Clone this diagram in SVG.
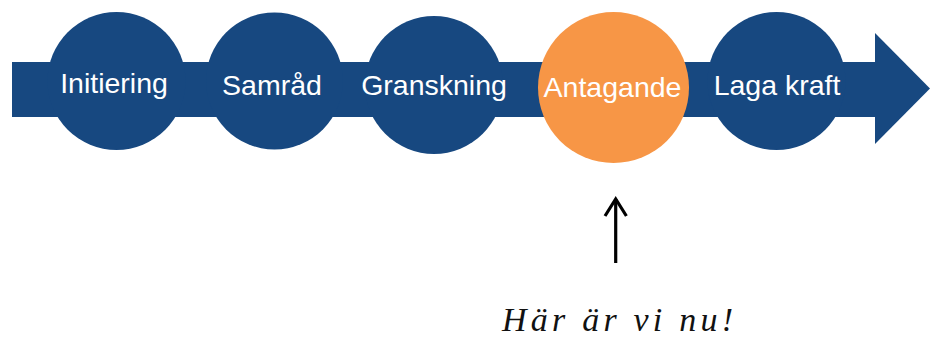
<svg xmlns="http://www.w3.org/2000/svg" width="930" height="343" viewBox="0 0 930 343">
  <style>
    .blue { fill: #174880; }
    .orange { fill: #F79646; }
    .lbl { font-family: "Liberation Sans", Arial, Helvetica, sans-serif; font-size: 28.5px; fill: #ffffff; text-anchor: middle; }
    .note { font-family: "Liberation Serif", "DejaVu Serif", serif; font-style: italic; font-size: 34px; fill: #111111; }
    .conn { stroke: #000000; stroke-width: 3.2; fill: none; stroke-linecap: butt; stroke-linejoin: miter; }
  </style>
  <rect width="930" height="343" fill="#ffffff"/>
  <g id="timeline">
    <rect class="blue" x="12" y="62" width="866" height="55"/>
    <polygon class="blue" points="875,33 930,88.5 875,144"/>
  </g>
  <g id="initiering">
    <circle class="blue" cx="116.5" cy="81" r="69"/>
    <text class="lbl" x="114" y="93">Initiering</text>
  </g>
  <g id="samrad">
    <circle class="blue" cx="274.5" cy="81" r="68.5"/>
    <text class="lbl" x="272" y="95">Samråd</text>
  </g>
  <g id="granskning">
    <circle class="blue" cx="434" cy="85" r="69"/>
    <text class="lbl" x="434" y="95">Granskning</text>
  </g>
  <g id="antagande">
    <circle class="orange" cx="613.5" cy="87.5" r="75.5"/>
    <text class="lbl" x="612.5" y="97">Antagande</text>
  </g>
  <g id="laga-kraft">
    <circle class="blue" cx="776.5" cy="81" r="69"/>
    <text class="lbl" x="777" y="95">Laga kraft</text>
  </g>
  <g id="connectors">
    <line class="conn" x1="615.7" y1="263" x2="615.7" y2="199"/>
    <polyline class="conn" points="605,216 615.7,199 626.4,216"/>
  </g>
  <g id="note">
    <text class="note" x="502" y="331" textLength="231" lengthAdjust="spacing">Här är vi nu!</text>
  </g>
</svg>
